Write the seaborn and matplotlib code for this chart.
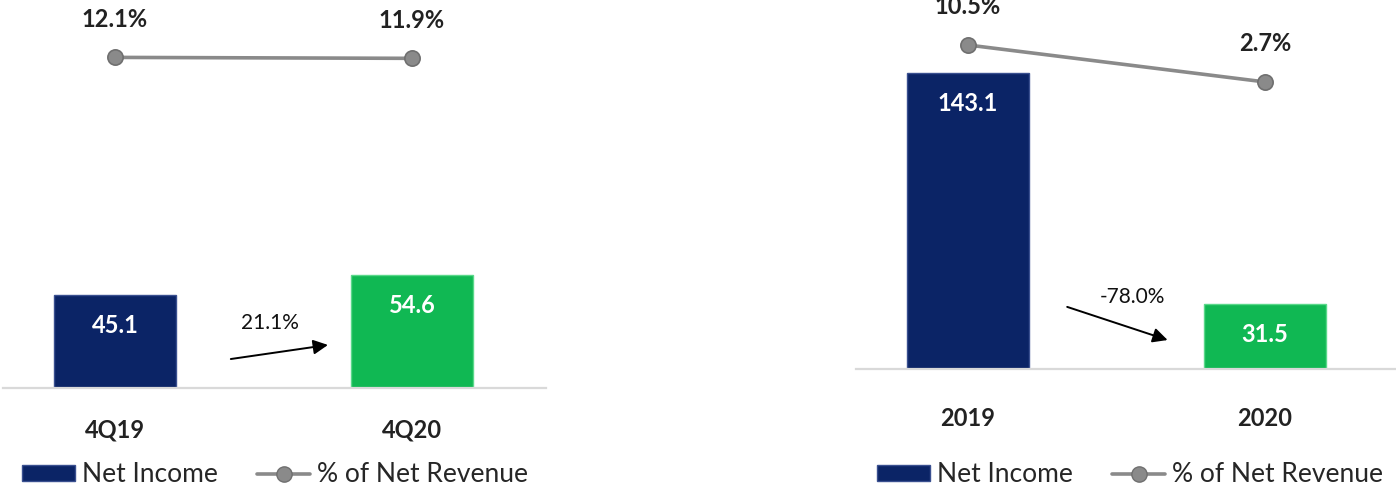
import matplotlib
matplotlib.use("Agg")
import matplotlib.pyplot as plt
from matplotlib.patches import Patch
from matplotlib.lines import Line2D
import seaborn as sns
import numpy as np

# ---- data ----
q_categories = ["4Q19", "4Q20"]
q_net_income = [45.1, 54.6]
q_pct_revenue = [12.1, 11.9]
q_change_label = "21.1%"

y_categories = ["2019", "2020"]
y_net_income = [143.1, 31.5]
y_pct_revenue = [10.5, 2.7]
y_change_label = "-78.0%"

legend_labels = ["Net Income", "% of Net Revenue"]

sns.set_theme(style="white")
plt.rcParams["font.family"] = ["Lato", "DejaVu Sans"]

NAVY = "#0b2466"
GREEN = "#10b853"
GRAY = "#8a8a8a"

fig = plt.figure(figsize=(13.96, 4.88), dpi=100)
W, H = 1396, 488


def panel(left_px, base_px, cats, vals, pcts, p2lim, change, arrow, tick_pad):
    ax = fig.add_axes([left_px / W, (H - base_px) / H, 543 / W, base_px / H])
    sns.barplot(x=cats, y=vals, ax=ax, palette=[NAVY, GREEN], hue=cats,
                legend=False, width=0.41, saturation=1,
                edgecolor=["#2a3f80", "#3cc870"], linewidth=1.0)
    for bar, c in zip(ax.patches, ["#3a5090", "#5ad88a"]):
        bar.set_edgecolor(c)
    ax.set_ylim(0, base_px / 2.07)
    ax.set_xlim(-0.377, 1.451)
    for i, v in enumerate(vals):
        ax.annotate(f"{v:.1f}", (i, v), xytext=(0, -31), textcoords="offset pixels",
                    ha="center", va="center", color="white", fontsize=17,
                    fontweight="bold")
    for s in ["left", "right", "top"]:
        ax.spines[s].set_visible(False)
    ax.spines["bottom"].set_color("#d9d9d9")
    ax.spines["bottom"].set_linewidth(1.6)
    ax.set_yticks([])
    ax.set_ylabel("")
    ax.tick_params(axis="x", length=0, pad=tick_pad, labelsize=17)
    for t in ax.get_xticklabels():
        t.set_fontweight("bold")
        t.set_color("#222222")

    # change arrow
    (x0, y0), (x1, y1), (lx, ly) = arrow
    ax.annotate("", xy=(x1, y1), xytext=(x0, y0),
                arrowprops=dict(arrowstyle="-|>", color="black", lw=1.4,
                                mutation_scale=22, shrinkA=0, shrinkB=0))
    ax.text(lx, ly, change, ha="center", va="center", fontsize=15, color="#111111")

    ax2 = ax.twinx()
    sns.pointplot(x=cats, y=pcts, ax=ax2, color=GRAY, markers="o",
                  markersize=11, linewidth=2.6, markeredgecolor="#6f6f6f",
                  markeredgewidth=1.2)
    ax2.set_ylim(*p2lim)
    ax2.set_xlim(-0.377, 1.451)
    ax2.set_yticks([])
    ax2.set_ylabel("")
    for s in ["left", "right", "top", "bottom"]:
        ax2.spines[s].set_visible(False)
    for i, p in enumerate(pcts):
        ax2.annotate(f"{p:.1f}%", (i, p), xytext=(0, 38), textcoords="offset pixels",
                     ha="center", va="center", fontsize=17, fontweight="bold",
                     color="#222222")
    return ax


panel(3, 388, q_categories, q_net_income, q_pct_revenue, (-57.6, 24.2), q_change_label,
      ((0.39, 14.0), (0.717, 20.8), (0.52, 31.4)), 22)
panel(856, 369, y_categories, y_net_income, y_pct_revenue, (-57.9, 20.0), y_change_label,
      ((0.334, 30.0), (0.672, 14.0), (0.555, 34.8)), 27)

handles = [Patch(facecolor=NAVY, edgecolor="#3a5090"),
           Line2D([0], [0], color=GRAY, lw=2.6, marker="o", markersize=11,
                  markerfacecolor=GRAY, markeredgecolor="#6f6f6f")]
for cx in [275, 1130]:
    fig.legend(handles, legend_labels, loc="center", bbox_to_anchor=(cx / W, 13 / H),
               ncol=2, frameon=False, fontsize=19, handlelength=2.0,
               handletextpad=0.27, columnspacing=1.5, handleheight=0.55)

fig.savefig("out.png", dpi=100)
